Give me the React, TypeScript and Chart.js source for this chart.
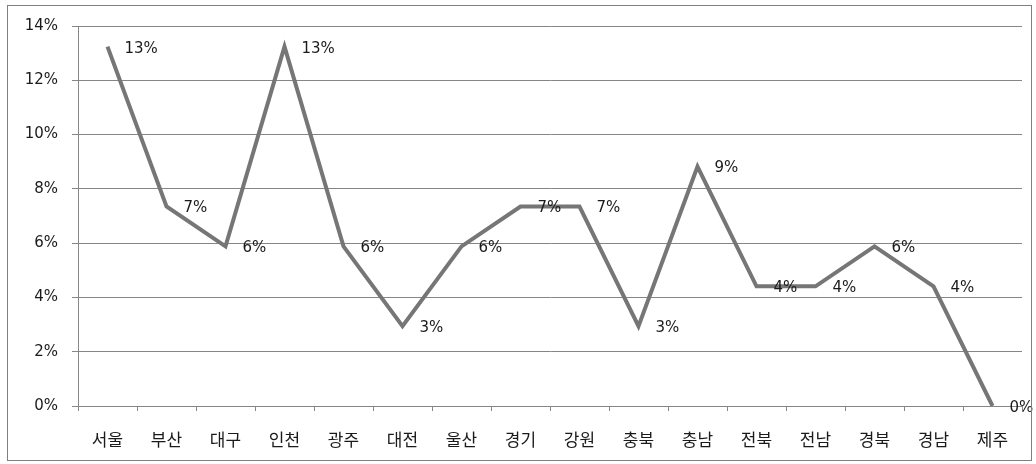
import React, { useEffect, useRef } from "react";
import { Chart, registerables } from "chart.js";

Chart.register(...registerables);

const categories: string[] = ["서울", "부산", "대구", "인천", "광주", "대전", "울산", "경기", "강원", "충북", "충남", "전북", "전남", "경북", "경남", "제주"];
const shares: number[] = [13.24, 7.35, 5.88, 13.24, 5.88, 2.94, 5.88, 7.35, 7.35, 2.94, 8.82, 4.41, 4.41, 5.88, 4.41, 0];
const yTicks: number[] = [0, 2, 4, 6, 8, 10, 12, 14];

const NUM_FONT = "'DejaVu Sans', 'Noto Sans CJK KR', sans-serif";
const KR_FONT = "'Noto Sans CJK KR', 'Noto Sans', sans-serif";

const labelPlugin = {
  id: "pointLabels",
  afterDatasetsDraw(chart: any) {
    const ctx = chart.ctx;
    const meta = chart.getDatasetMeta(0);
    ctx.save();
    ctx.font = `15px ${NUM_FONT}`;
    ctx.fillStyle = "#1a1a1a";
    ctx.textAlign = "left";
    ctx.textBaseline = "middle";
    meta.data.forEach((pt: any, i: number) => {
      const v = shares[i];
      ctx.fillText(`${Math.round(v)}%`, pt.x + 17, pt.y + 2);
    });
    ctx.restore();
  },
};

export default function App() {
  const ref = useRef<HTMLCanvasElement | null>(null);
  useEffect(() => {
    document.body.style.margin = "0";
    const chart = new Chart(ref.current as HTMLCanvasElement, {
      type: "line",
      data: {
        labels: categories,
        datasets: [
          {
            data: shares,
            borderColor: "#767676",
            borderWidth: 4,
            pointRadius: 0,
            tension: 0,
            fill: false,
          },
        ],
      },
      plugins: [labelPlugin],
      options: {
        animation: false,
        responsive: false,
        maintainAspectRatio: false,
        layout: { padding: { top: 26, right: 14, left: 0, bottom: 0 } },
        plugins: { legend: { display: false }, tooltip: { enabled: false } },
        scales: {
          x: {
            type: "category",
            offset: true,
            grid: {
              display: true,
              drawOnChartArea: false,
              drawTicks: true,
              tickLength: 5,
              color: "#868686",
              offset: true,
            },
            border: { display: true, color: "#868686" },
            ticks: {
              color: "#1a1a1a",
              font: { family: KR_FONT, size: 17 },
              padding: 18,
              maxRotation: 0,
              autoSkip: false,
            },
            afterFit(scale: any) {
              scale.height = 58;
            },
          },
          y: {
            min: 0,
            max: 14,
            afterBuildTicks(scale: any) {
              scale.ticks = yTicks.map((v) => ({ value: v }));
            },
            grid: {
              color: "#868686",
              lineWidth: 1,
              drawTicks: true,
              tickLength: 6,
            },
            border: { display: true, color: "#868686" },
            ticks: {
              color: "#1a1a1a",
              font: { family: NUM_FONT, size: 15 },
              padding: 14,
              callback: (v: any) => `${v}%`,
            },
            afterFit(scale: any) {
              scale.width = 78;
            },
          },
        },
      },
    });
    return () => chart.destroy();
  }, []);
  return (
    <div style={{ position: "relative", width: 1036, height: 464, background: "#fff" }}>
      <canvas ref={ref} width={1036} height={464} style={{ position: "absolute", left: 0, top: 0 }} />
      <div
        style={{
          position: "absolute",
          left: 7,
          top: 5,
          width: 1025,
          height: 456,
          border: "1px solid #7f7f7f",
          boxSizing: "border-box",
          pointerEvents: "none",
        }}
      />
    </div>
  );
}
